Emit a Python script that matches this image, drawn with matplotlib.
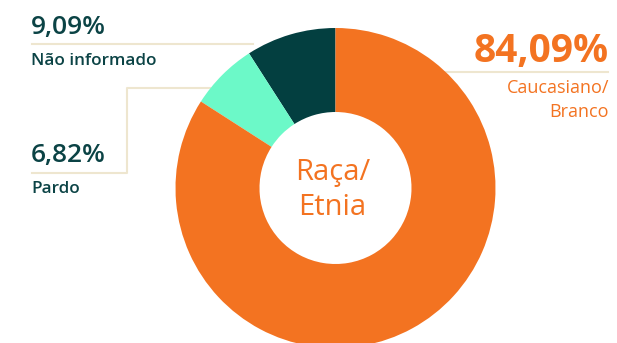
import matplotlib
matplotlib.use("Agg")
import matplotlib.pyplot as plt

categories = ["Não informado", "Pardo", "Caucasiano/\nBranco"]
values = [9.09, 6.82, 84.09]
value_labels = ["9,09%", "6,82%", "84,09%"]
colors = ["#033F40", "#6CF9C8", "#F37321"]

W, H = 617, 343
fig = plt.figure(figsize=(W / 100, H / 100), dpi=100)
ax = fig.add_axes([0, 0, 1, 1])

def Y(py):
    return H - py

cx, cy, r_out, r_in = 335.5, 188, 160, 76
ax.pie(values, colors=colors, startangle=90, counterclock=True,
       center=(cx, Y(cy)), radius=r_out, frame=True,
       wedgeprops=dict(width=r_out - r_in, linewidth=0))
ax.set_xlim(0, W)
ax.set_ylim(0, H)
ax.axis("off")

font = "Open Sans"
dark = "#0B4345"
orange = "#F37321"
line_c = "#EEE6CF"

# leader lines
ax.plot([32, 253], [Y(44), Y(44)], color=line_c, lw=1.5, zorder=0)
ax.plot([32, 127, 127, 210], [Y(172.5), Y(172.5), Y(88), Y(88)], color=line_c, lw=1.5, zorder=0)
ax.plot([445, 608], [Y(71.5), Y(71.5)], color=line_c, lw=1.5, zorder=0)

# left labels
ax.text(31, Y(34), value_labels[0], fontsize=19, fontfamily=font, fontweight="semibold",
        color=dark, ha="left", va="baseline")
ax.text(31, Y(65), categories[0], fontsize=12.3, fontfamily=font, fontweight="semibold",
        color=dark, ha="left", va="baseline")
ax.text(31, Y(162), value_labels[1], fontsize=19, fontfamily=font, fontweight="semibold",
        color=dark, ha="left", va="baseline")
ax.text(31, Y(193), categories[1], fontsize=12.3, fontfamily=font, fontweight="semibold",
        color=dark, ha="left", va="baseline")

# right label
ax.text(609, Y(62), value_labels[2], fontsize=28, fontfamily=font, fontweight="bold",
        color=orange, ha="right", va="baseline")
ax.text(609, Y(117), categories[2], fontsize=13, fontfamily=font, fontweight="medium",
        color=orange, ha="right", va="baseline", linespacing=1.4, multialignment="right")

# centre title
ax.text(cx - 3, Y(190), "Raça/\nEtnia", fontsize=21, fontfamily=font, fontweight="medium",
        color=orange, ha="center", va="center", linespacing=1.3)

fig.savefig("out.png", dpi=100)
